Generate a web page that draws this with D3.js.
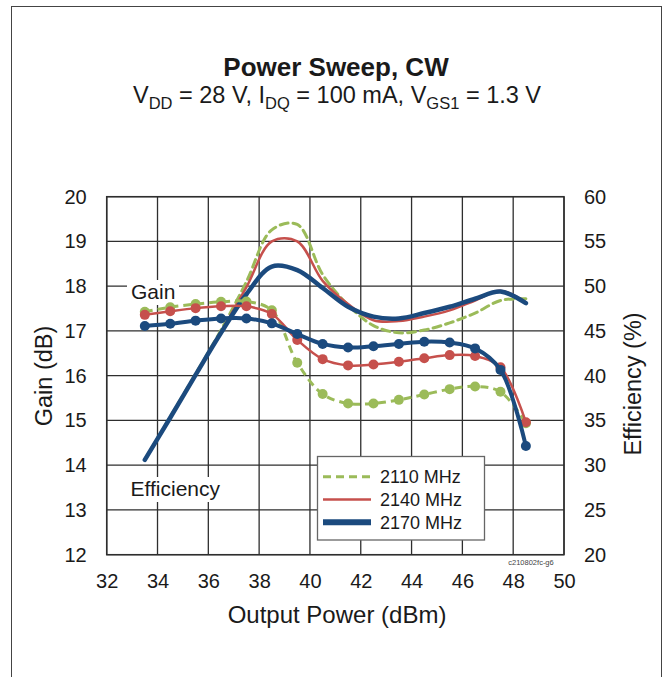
<!DOCTYPE html>
<html>
<head>
<meta charset="utf-8">
<script src="https://cdn.jsdelivr.net/npm/d3@7"></script>
<style>
  body { margin: 0; background: #fff; }
  svg { display: block; font-family: "Liberation Sans", Arial, sans-serif; }
  .tick line { display: none; }
  .domain { display: none; }
</style>
</head>
<body>
<svg id="chart" width="664" height="677"></svg>
<script>
// output power points (dBm)
const powerOut = [33.5, 34.5, 35.5, 36.5, 37.5, 38.5, 39.5, 40.5, 41.5, 42.5, 43.5, 44.5, 45.5, 46.5, 47.5, 48.5];

// gain (dB)
const gain2110 = [17.43, 17.53, 17.60, 17.65, 17.66, 17.46, 16.29, 15.59, 15.38, 15.38, 15.46, 15.58, 15.70, 15.76, 15.64, 14.94];
const gain2140 = [17.36, 17.44, 17.51, 17.55, 17.55, 17.38, 16.80, 16.37, 16.23, 16.25, 16.31, 16.39, 16.46, 16.44, 16.19, 14.96];
const gain2170 = [17.11, 17.16, 17.23, 17.28, 17.28, 17.17, 16.93, 16.71, 16.63, 16.66, 16.71, 16.76, 16.74, 16.61, 16.13, 14.43];

// drain efficiency (%)
const eff2110 = [30.6, 35.4, 40.2, 45.1, 50.5, 56.3, 56.9, 51.3, 47.9, 45.6, 44.8, 45.1, 45.9, 47.0, 48.4, 48.6];
const eff2140 = [30.6, 35.3, 40.1, 44.9, 49.9, 55.0, 55.0, 50.6, 48.0, 46.2, 46.1, 46.6, 47.3, 48.4, 49.5, 48.2];
const eff2170 = [30.6, 35.3, 40.1, 44.8, 49.1, 52.2, 51.8, 49.8, 47.7, 46.6, 46.4, 47.0, 47.7, 48.6, 49.4, 48.1];

const xTicks = [32, 34, 36, 38, 40, 42, 44, 46, 48, 50];
const gainTicks = [12, 13, 14, 15, 16, 17, 18, 19, 20];
const effTicks = [20, 25, 30, 35, 40, 45, 50, 55, 60];
const seriesNames = ["2110 MHz", "2140 MHz", "2170 MHz"];

const svg = d3.select("#chart");

// outer frame
svg.append("rect")
  .attr("x", 11.5).attr("y", 6.5)
  .attr("width", 650).attr("height", 700)
  .attr("fill", "none").attr("stroke", "#444").attr("stroke-width", 1);

const pLeft = 106.7, pRight = 564, pTop = 196.7, pBottom = 554.7;
const x = d3.scaleLinear().domain([32, 50]).range([pLeft, pRight]);
const yGain = d3.scaleLinear().domain([12, 20]).range([pBottom, pTop]);
const yEff = d3.scaleLinear().domain([20, 60]).range([pBottom, pTop]);

// title
svg.append("text")
  .attr("x", 336).attr("y", 76)
  .attr("text-anchor", "middle")
  .attr("font-size", 26).attr("font-weight", "bold").attr("fill", "#1a1a1a")
  .text("Power Sweep, CW");

const sub = svg.append("text")
  .attr("x", 337).attr("y", 103)
  .attr("text-anchor", "middle")
  .attr("font-size", 23.5).attr("fill", "#1a1a1a");
const parts = [["V", 0], ["DD", 1], [" = 28 V, I", 0], ["DQ", 1], [" = 100 mA, V", 0], ["GS1", 1], [" = 1.3 V", 0]];
let prevSub = 0;
parts.forEach(p => {
  const isSub = p[1];
  sub.append("tspan")
    .attr("font-size", isSub ? 16.5 : 23.5)
    .attr("dy", isSub ? (prevSub ? 0 : 6) : (prevSub ? -6 : 0))
    .text(p[0]);
  prevSub = isSub;
});

// grid
const grid = svg.append("g");
grid.selectAll(".vg").data(xTicks).enter().append("line")
  .attr("x1", d => x(d)).attr("x2", d => x(d))
  .attr("y1", pTop).attr("y2", pBottom)
  .attr("stroke", "#2e2e2e").attr("stroke-width", 1.3);
grid.selectAll(".hg").data(gainTicks).enter().append("line")
  .attr("x1", pLeft).attr("x2", pRight)
  .attr("y1", d => yGain(d)).attr("y2", d => yGain(d))
  .attr("stroke", "#2e2e2e").attr("stroke-width", 1.3);

// axes (labels only)
const axisFont = g => g.selectAll("text").attr("font-size", 20).attr("fill", "#1a1a1a");
svg.append("g").attr("transform", `translate(${pLeft},0)`)
  .call(d3.axisLeft(yGain).tickValues(gainTicks).tickSize(0).tickPadding(20))
  .call(axisFont);
svg.append("g").attr("transform", `translate(${pRight},0)`)
  .call(d3.axisRight(yEff).tickValues(effTicks).tickSize(0).tickPadding(20))
  .call(axisFont);
svg.append("g").attr("transform", `translate(0,${pBottom})`)
  .call(d3.axisBottom(x).tickValues(xTicks).tickSize(0).tickPadding(19))
  .call(axisFont);
svg.selectAll(".domain").remove();

// axis titles
svg.append("text")
  .attr("x", 337).attr("y", 623)
  .attr("text-anchor", "middle").attr("font-size", 24).attr("fill", "#1a1a1a")
  .text("Output Power (dBm)");
svg.append("text")
  .attr("transform", "translate(52,376) rotate(-90)")
  .attr("text-anchor", "middle").attr("font-size", 23.5).attr("fill", "#1a1a1a")
  .text("Gain (dB)");
svg.append("text")
  .attr("transform", "translate(641,384) rotate(-90)")
  .attr("text-anchor", "middle").attr("font-size", 23.5).attr("fill", "#1a1a1a")
  .text("Efficiency (%)");

// annotation labels with white backgrounds
function boxedLabel(txt, tx, ty, w) {
  svg.append("rect").attr("x", tx - 4).attr("y", ty - 19).attr("width", w).attr("height", 25).attr("fill", "#fff");
  svg.append("text").attr("x", tx).attr("y", ty)
    .attr("font-size", 21).attr("fill", "#1a1a1a").text(txt);
}
boxedLabel("Gain", 131, 299, 52);
boxedLabel("Efficiency", 130.5, 496, 98);

// plot frame
svg.append("rect")
  .attr("x", pLeft).attr("y", pTop)
  .attr("width", pRight - pLeft).attr("height", pBottom - pTop)
  .attr("fill", "none").attr("stroke", "#2e2e2e").attr("stroke-width", 1.5);

const styles = [
  { color: "#9bbb59", width: 3, dash: "8,5", r: 5 },
  { color: "#c6504c", width: 2.5, dash: null, r: 5 },
  { color: "#1b4a7e", width: 4, dash: null, r: 5 }
];

const effSeries = [eff2110, eff2140, eff2170];
const gainSeries = [gain2110, gain2140, gain2170];

const effLine = d3.line()
  .x((d, i) => x(powerOut[i])).y(d => yEff(d))
  .curve(d3.curveCatmullRom.alpha(0.5));
const gainLine = d3.line()
  .x((d, i) => x(powerOut[i])).y(d => yGain(d))
  .curve(d3.curveCatmullRom.alpha(0.5));

effSeries.forEach((s, k) => {
  const st = styles[k];
  svg.append("path").datum(s)
    .attr("d", effLine)
    .attr("fill", "none").attr("stroke", st.color)
    .attr("stroke-width", st.width + (k === 2 ? 0.5 : 0))
    .attr("stroke-dasharray", st.dash)
    .attr("stroke-linecap", "round");
});

gainSeries.forEach((s, k) => {
  const st = styles[k];
  const g = svg.append("g");
  g.append("path").datum(s)
    .attr("d", gainLine)
    .attr("fill", "none").attr("stroke", st.color)
    .attr("stroke-width", st.width)
    .attr("stroke-dasharray", st.dash);
  g.selectAll("circle").data(s).enter().append("circle")
    .attr("cx", (d, i) => x(powerOut[i]))
    .attr("cy", d => yGain(d))
    .attr("r", st.r)
    .attr("fill", st.color);
});

// legend
const lg = svg.append("g");
lg.append("rect")
  .attr("x", 317.5).attr("y", 456.5).attr("width", 167).attr("height", 83.5)
  .attr("fill", "#fff").attr("stroke", "#666").attr("stroke-width", 1.3);
seriesNames.forEach((name, k) => {
  const st = styles[k];
  const cy = 476.7 + k * 22.8;
  lg.append("line")
    .attr("x1", 323).attr("x2", 371).attr("y1", cy).attr("y2", cy)
    .attr("stroke", st.color)
    .attr("stroke-width", k === 2 ? 6 : (k === 1 ? 2.5 : 3))
    .attr("stroke-dasharray", st.dash);
  lg.append("text")
    .attr("x", 380).attr("y", cy + 6.5)
    .attr("font-size", 18).attr("fill", "#1a1a1a")
    .text(name);
});

// figure code
svg.append("text")
  .attr("x", 531).attr("y", 565)
  .attr("text-anchor", "middle").attr("font-size", 7.5).attr("fill", "#444")
  .text("c210802fc-g6");
</script>
</body>
</html>
